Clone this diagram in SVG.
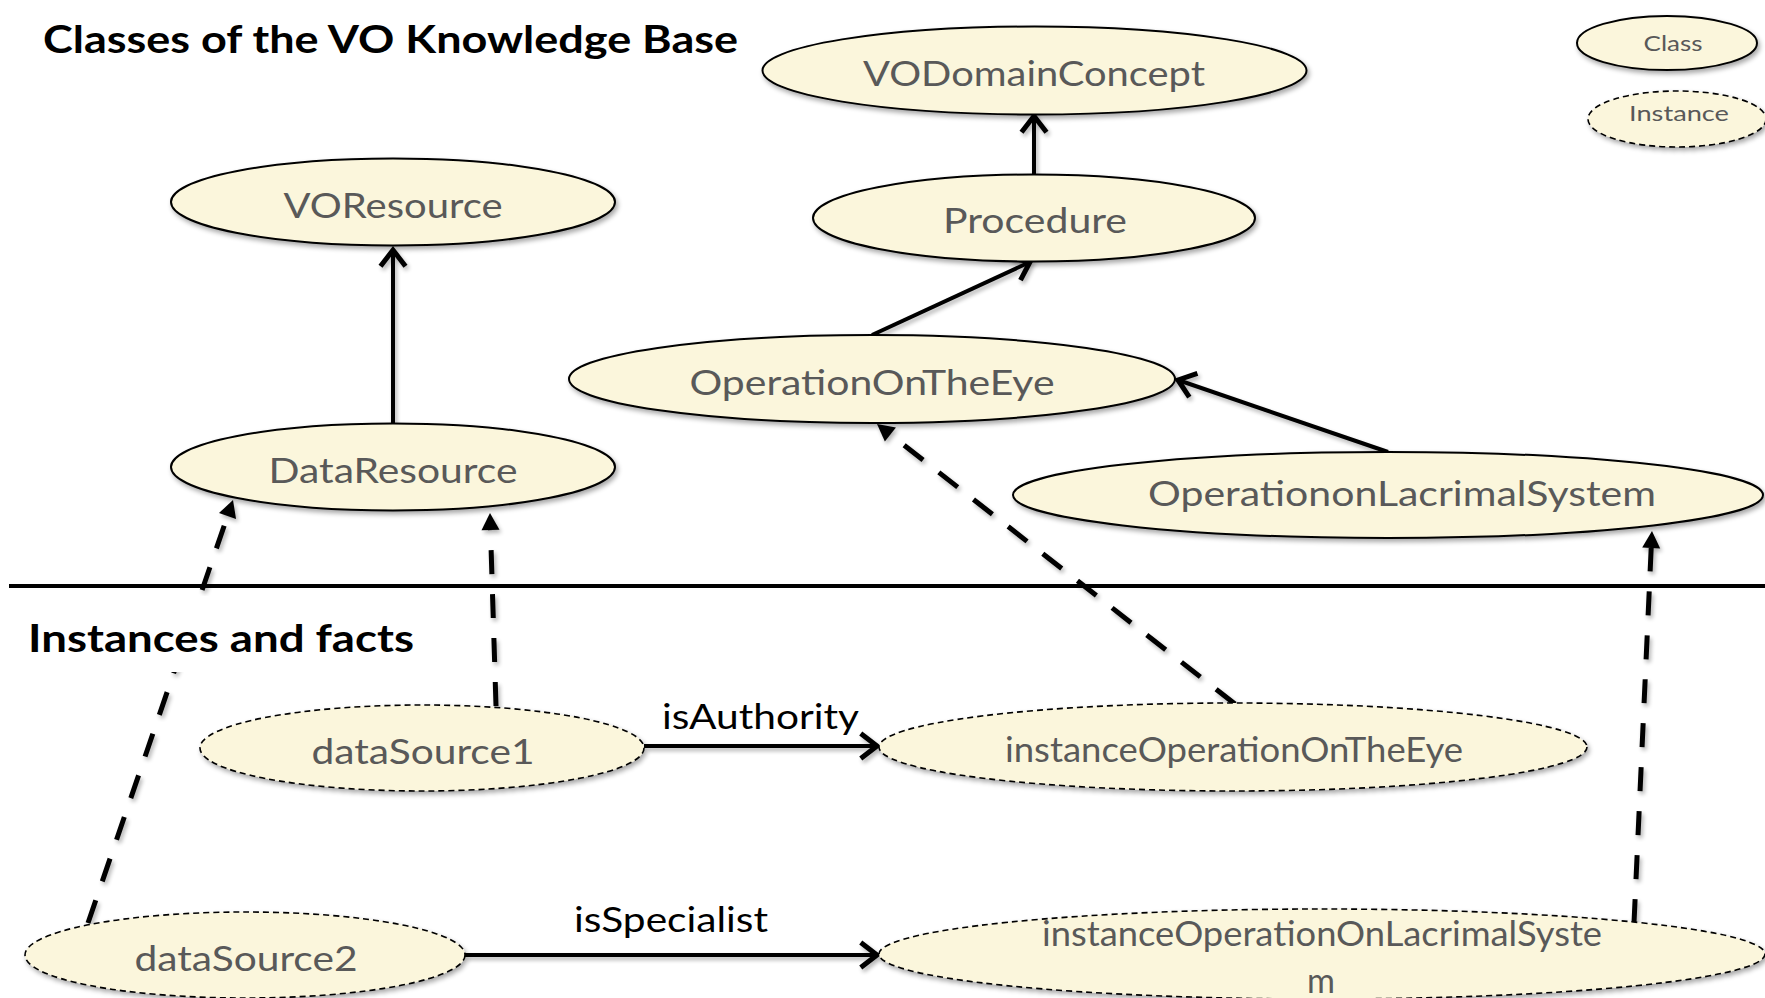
<svg xmlns="http://www.w3.org/2000/svg" width="1765" height="998" viewBox="0 0 1765 998">
<style>
.cls{fill:#FBF6DC;stroke:#000;stroke-width:2;filter:url(#sh)}
.ins{fill:#FBF6DC;stroke:#000;stroke-width:1.6;stroke-dasharray:6 4;filter:url(#sh)}
.nt{font-family:Lato,"Open Sans","Liberation Sans",sans-serif;font-size:34px;fill:#595959;text-anchor:middle}
.lt{font-family:Lato,"Open Sans","Liberation Sans",sans-serif;font-size:22px;fill:#595959;text-anchor:middle}
.hd{font-family:Lato,"Open Sans","Liberation Sans",sans-serif;font-size:38px;font-weight:bold;fill:#000}
.el{font-family:Lato,"Open Sans","Liberation Sans",sans-serif;font-size:34px;fill:#000}
.sol{stroke:#000;stroke-width:4;fill:none;marker-end:url(#open)}
.dsh{stroke:#000;stroke-width:5;fill:none;stroke-dasharray:24 20;marker-end:url(#tri)}
</style>
<defs>
<filter id="sh" x="-10%" y="-10%" width="130%" height="140%">
<feGaussianBlur in="SourceAlpha" stdDeviation="2.5"/>
<feOffset dx="2" dy="3" result="b"/>
<feComponentTransfer><feFuncA type="linear" slope="0.35"/></feComponentTransfer>
<feMerge><feMergeNode/><feMergeNode in="SourceGraphic"/></feMerge>
</filter>
<filter id="lsh" filterUnits="userSpaceOnUse" x="0" y="0" width="1765" height="998">
<feGaussianBlur in="SourceAlpha" stdDeviation="2"/>
<feOffset dx="2" dy="3" result="b"/>
<feComponentTransfer><feFuncA type="linear" slope="0.3"/></feComponentTransfer>
<feMerge><feMergeNode/><feMergeNode in="SourceGraphic"/></feMerge>
</filter>
<marker id="open" markerUnits="userSpaceOnUse" markerWidth="30" markerHeight="30" viewBox="-16 -12 20 24" refX="0" refY="0" orient="auto">
<path d="M-13,-10 L0,0 L-13,10" fill="none" stroke="#000" stroke-width="4" stroke-linejoin="miter"/>
</marker>
<marker id="tri" markerUnits="userSpaceOnUse" markerWidth="24" markerHeight="24" viewBox="0 -12 20 24" refX="0" refY="0" orient="auto">
<path d="M0,-9 L17,0 L0,9 z" fill="#000"/>
</marker>
</defs>
<rect width="1765" height="998" fill="#fff"/>
<line x1="9" y1="586" x2="1765" y2="586" stroke="#000" stroke-width="4"/>
<g id="connectors" filter="url(#lsh)">
<line class="sol" x1="1034" y1="174" x2="1034" y2="116"/>
<line class="sol" x1="872" y1="335" x2="1030" y2="262"/>
<line class="sol" x1="393" y1="424" x2="393" y2="250"/>
<line class="sol" x1="1388" y1="452" x2="1178" y2="380"/>
<line class="sol" x1="644" y1="746" x2="877" y2="746"/>
<line class="sol" x1="465" y1="955" x2="877" y2="955"/>
<line class="dsh" x1="496" y1="706" x2="490.5" y2="530"/>
<line class="dsh" x1="88" y1="923" x2="227.5" y2="516"/>
<line class="dsh" x1="1235" y1="704" x2="890.4" y2="434.5"/>
<line class="dsh" x1="1634" y1="923" x2="1651.2" y2="548"/>
</g>
<g id="title"><text class="hd" x="43" y="53" textLength="695" lengthAdjust="spacingAndGlyphs">Classes of the VO Knowledge Base</text></g>
<g id="section2">
<rect x="20" y="596" width="400" height="76" fill="#fff"/>
<text class="hd" x="28" y="652" textLength="386" lengthAdjust="spacingAndGlyphs">Instances and facts</text>
</g>
<g id="legend-class"><ellipse class="cls" cx="1667" cy="43" rx="90" ry="27"/><text class="lt" x="1673" y="51" textLength="59" lengthAdjust="spacingAndGlyphs">Class</text></g>
<g id="legend-instance"><ellipse class="ins" cx="1677" cy="119" rx="89" ry="28"/><text class="lt" x="1679" y="121" textLength="100" lengthAdjust="spacingAndGlyphs">Instance</text></g>
<g id="VODomainConcept"><ellipse class="cls" cx="1034.5" cy="70.5" rx="272" ry="44"/><text class="nt" x="1034" y="86" textLength="342" lengthAdjust="spacingAndGlyphs">VODomainConcept</text></g>
<g id="Procedure"><ellipse class="cls" cx="1034" cy="218" rx="221" ry="43.5"/><text class="nt" x="1035" y="233" textLength="184" lengthAdjust="spacingAndGlyphs">Procedure</text></g>
<g id="VOResource"><ellipse class="cls" cx="393" cy="202" rx="222" ry="43.5"/><text class="nt" x="393" y="218" textLength="219" lengthAdjust="spacingAndGlyphs">VOResource</text></g>
<g id="OperationOnTheEye"><ellipse class="cls" cx="872" cy="379" rx="303" ry="44"/><text class="nt" x="872" y="395" textLength="365" lengthAdjust="spacingAndGlyphs">OperationOnTheEye</text></g>
<g id="DataResource"><ellipse class="cls" cx="393" cy="467" rx="222" ry="43.5"/><text class="nt" x="393" y="483" textLength="249" lengthAdjust="spacingAndGlyphs">DataResource</text></g>
<g id="OperationonLacrimalSystem"><ellipse class="cls" cx="1388" cy="495" rx="375" ry="43"/><text class="nt" x="1402" y="506" textLength="508" lengthAdjust="spacingAndGlyphs">OperationonLacrimalSystem</text></g>
<g id="dataSource1"><ellipse class="ins" cx="422" cy="748" rx="222" ry="43"/><text class="nt" x="423" y="764" textLength="223" lengthAdjust="spacingAndGlyphs">dataSource1</text></g>
<g id="instanceOperationOnTheEye"><ellipse class="ins" cx="1233" cy="747" rx="354" ry="44"/><text class="nt" x="1234" y="762" font-size="31" textLength="458" lengthAdjust="spacingAndGlyphs">instanceOperationOnTheEye</text></g>
<g id="dataSource2"><ellipse class="ins" cx="245" cy="955" rx="220" ry="43"/><text class="nt" x="246" y="971" textLength="223" lengthAdjust="spacingAndGlyphs">dataSource2</text></g>
<g id="instanceOperationOnLacrimalSystem"><ellipse class="ins" cx="1322" cy="954" rx="443" ry="45"/><text class="nt" x="1322" y="946" font-size="31" textLength="560" lengthAdjust="spacingAndGlyphs">instanceOperationOnLacrimalSyste</text><text class="nt" x="1321" y="993" font-size="31">m</text></g>
<g id="edge-labels">
<text class="el" x="662" y="729" textLength="197" lengthAdjust="spacingAndGlyphs">isAuthority</text>
<text class="el" x="574" y="932" textLength="194" lengthAdjust="spacingAndGlyphs">isSpecialist</text>
</g>
</svg>
